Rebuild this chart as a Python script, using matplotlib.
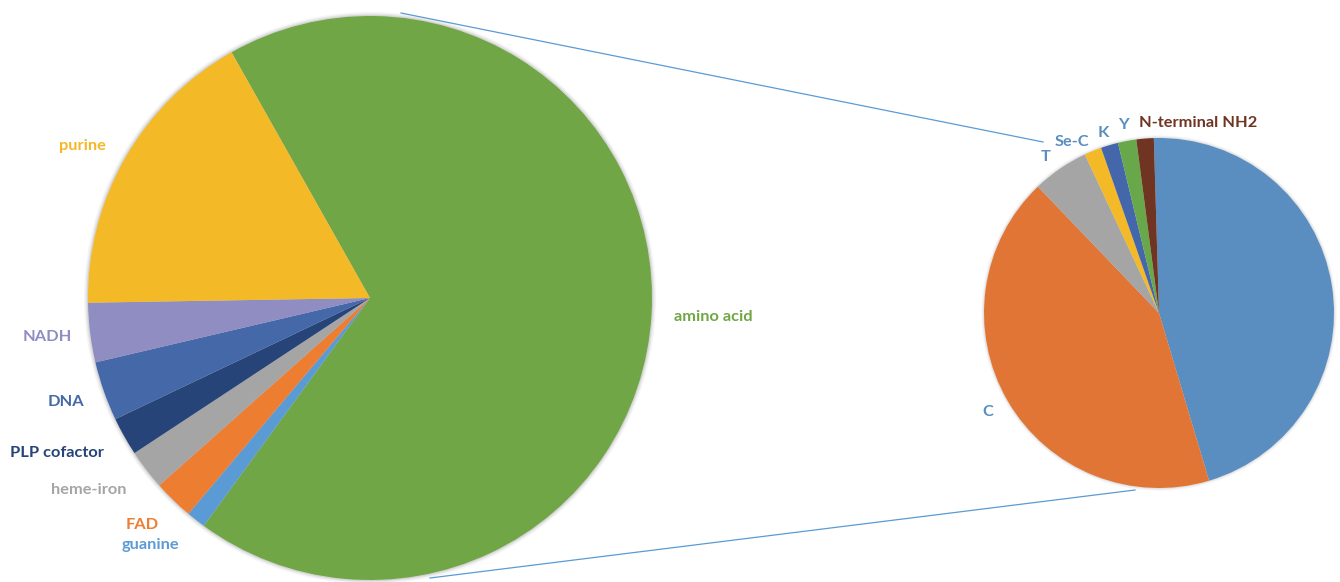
import matplotlib.pyplot as plt

# left pie (clockwise from the top-left edge of "amino acid")
left_labels = ['amino acid', 'guanine', 'FAD', 'heme-iron', 'PLP cofactor', 'DNA', 'NADH', 'purine']
left_values = [68.2, 1.1, 2.3, 2.3, 2.2, 3.4, 3.4, 17.1]
left_colors = ['#70A645', '#5B9BD5', '#ED7D31', '#A5A5A5', '#264478', '#4468A8', '#8F8DC2', '#F4B927']

# right pie (breakdown of amino acid)
right_labels = ['', 'C', 'T', 'Se-C', 'K', 'Y', 'N-terminal NH2']
right_values = [45.9, 42.5, 5.2, 1.6, 1.6, 1.7, 1.6]
right_colors = ['#5A8EC0', '#E07536', '#A5A5A5', '#F4B927', '#4466AA', '#69A84A', '#6F3422']
right_text_colors = ['#5A8EC0', '#5A8EC0', '#5A8EC0', '#5A8EC0', '#5A8EC0', '#5A8EC0', '#6F3422']

W, H = 1340, 582


def py(y):
    return H - y


left_pos = [(713, 317), (150, 545), (142, 525), (89, 490), (57, 453), (66, 402), (47, 337), (82, 146)]
right_pos = [(1400, 300), (988, 412), (1046, 157), (1072, 142), (1103, 133), (1123, 125), (1198, 123)]

fig = plt.figure(figsize=(13.4, 5.82), dpi=100)
ax = fig.add_axes([0, 0, 1, 1])

lc = (370, py(298))
rc = (1159, py(313))
lr, rr = 282, 175

# soft rim shadow
for d, a in [(4, 0.08), (2.5, 0.12), (1.2, 0.18)]:
    ax.add_patch(plt.Circle(lc, lr + d, color='#808080', alpha=a, lw=0, zorder=0))
    ax.add_patch(plt.Circle(rc, rr + d * 0.7, color='#808080', alpha=a * 0.7, lw=0, zorder=0))

ax.pie(left_values, colors=left_colors, startangle=119.4, counterclock=False,
       center=lc, radius=lr, frame=True, wedgeprops=dict(linewidth=0))
ax.pie(right_values, colors=right_colors, startangle=91.7, counterclock=False,
       center=rc, radius=rr, frame=True, wedgeprops=dict(linewidth=0))

for lab, col, (x, y) in zip(left_labels, left_colors, left_pos):
    ax.text(x, py(y), lab, color=col, fontsize=11.8, fontweight='bold',
            family='Lato', ha='center', va='center')
for lab, col, (x, y) in zip(right_labels, right_text_colors, right_pos):
    ax.text(x, py(y), lab, color=col, fontsize=11.8, fontweight='bold',
            family='Lato', ha='center', va='center')

# connector lines
ax.plot([401, 1043], [py(13), py(142)], color='#5B9BD5', lw=0.9)
ax.plot([430, 1135], [py(578), py(490)], color='#5B9BD5', lw=0.9)

ax.set_xlim(0, W)
ax.set_ylim(0, H)
ax.set_aspect('equal')
ax.axis('off')

fig.savefig('out.png', dpi=100)
